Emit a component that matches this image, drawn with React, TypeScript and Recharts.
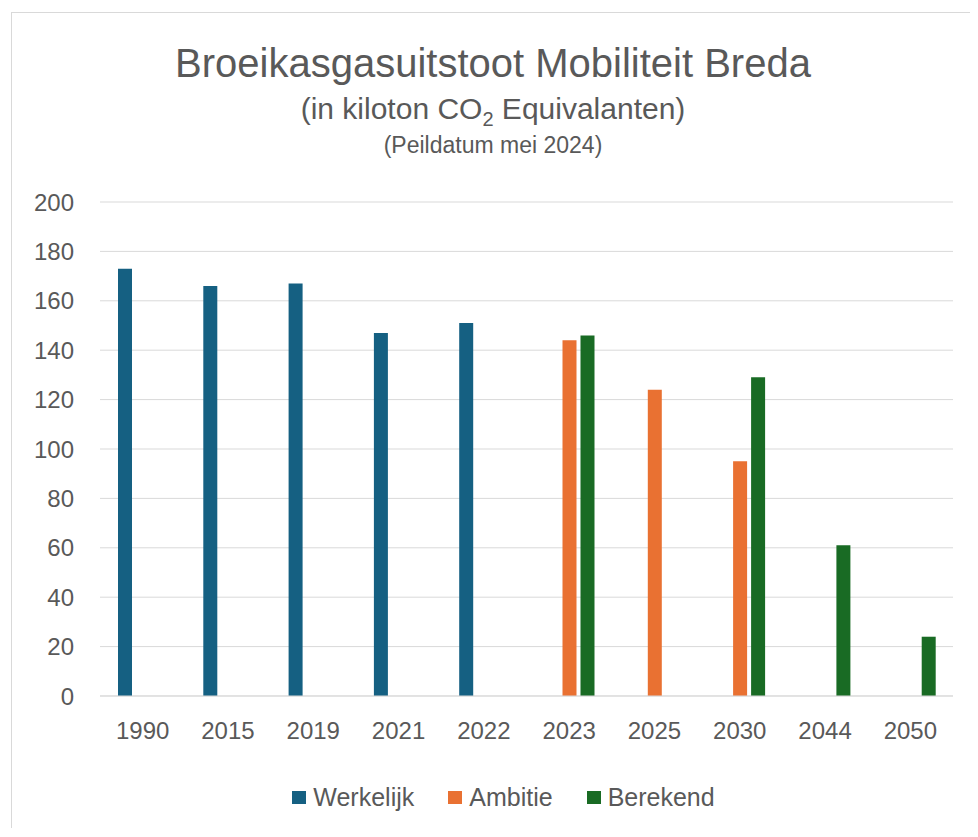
import { BarChart, Bar, XAxis, YAxis, CartesianGrid, Legend } from "recharts";

const years = ["1990", "2015", "2019", "2021", "2022", "2023", "2025", "2030", "2044", "2050"];
const werkelijk = [173, 166, 167, 147, 151, null, null, null, null, null];
const ambitie = [null, null, null, null, null, 144, 124, 95, null, null];
const berekend = [null, null, null, null, null, 146, null, 129, 61, 24];
const yTicks = [0, 20, 40, 60, 80, 100, 120, 140, 160, 180, 200];

const series = [
  { key: "Werkelijk", color: "#156082" },
  { key: "Ambitie", color: "#E97132" },
  { key: "Berekend", color: "#196B24" },
];

const data = years.map((year, i) => ({
  year,
  Werkelijk: werkelijk[i],
  Ambitie: ambitie[i],
  Berekend: berekend[i],
}));

const textColor = "#595959";
const font = "'Liberation Sans', Arial, sans-serif";

function LegendContent() {
  return (
    <div
      style={{
        display: "flex",
        justifyContent: "center",
        alignItems: "center",
        gap: 34,
        paddingLeft: 46,
        fontFamily: font,
        fontSize: 25,
        color: textColor,
      }}
    >
      {series.map((s) => (
        <div key={s.key} style={{ display: "flex", alignItems: "center", gap: 7 }}>
          <span style={{ display: "inline-block", width: 14, height: 13, background: s.color }} />
          <span>{s.key}</span>
        </div>
      ))}
    </div>
  );
}

export default function App() {
  return (
    <div style={{ position: "relative", width: 970, height: 820, overflow: "hidden", background: "#fff" }}>
      <div
        style={{
          position: "absolute",
          left: 3,
          top: 4,
          width: 1000,
          height: 1000,
          border: "1px solid #d9d9d9",
        }}
      />
      <div
        style={{
          position: "absolute",
          left: 0,
          width: 970,
          top: 35,
          textAlign: "center",
          fontFamily: font,
          color: textColor,
          fontSize: 40,
          lineHeight: "40px",
        }}
      >
        Broeikasgasuitstoot Mobiliteit Breda
      </div>
      <div
        style={{
          position: "absolute",
          left: 0,
          width: 970,
          top: 86,
          textAlign: "center",
          fontFamily: font,
          color: textColor,
          fontSize: 30,
          lineHeight: "30px",
        }}
      >
        (in kiloton CO<sub style={{ fontSize: 20, lineHeight: 0 }}>2</sub> Equivalanten)
      </div>
      <div
        style={{
          position: "absolute",
          left: 0,
          width: 970,
          top: 126,
          textAlign: "center",
          fontFamily: font,
          color: textColor,
          fontSize: 23,
          lineHeight: "23px",
        }}
      >
        (Peildatum mei 2024)
      </div>
      <div style={{ position: "absolute", left: 0, top: 0 }}>
        <BarChart
          width={970}
          height={820}
          data={data}
          margin={{ top: 194, right: 25, bottom: 72, left: 0 }}
          barSize={14}
          barGap={4}
        >
          <CartesianGrid stroke="#d9d9d9" vertical={false} />
          <XAxis
            dataKey="year"
            height={60}
            axisLine={{ stroke: "#d9d9d9" }}
            tickLine={false}
            tickMargin={20}
            tick={{ fill: textColor, fontSize: 24, fontFamily: font }}
            interval={0}
          />
          <YAxis
            width={92}
            domain={[0, 200]}
            ticks={yTicks}
            axisLine={false}
            tickLine={false}
            tickMargin={20}
            tick={{ fill: textColor, fontSize: 24, fontFamily: font }}
          />
          <Legend
            verticalAlign="middle"
            align="center"
            layout="horizontal"
            wrapperStyle={{ top: 775 }}
            content={() => <LegendContent />}
          />
          {series.map((s) => (
            <Bar key={s.key} dataKey={s.key} fill={s.color} isAnimationActive={false} />
          ))}
        </BarChart>
      </div>
    </div>
  );
}
